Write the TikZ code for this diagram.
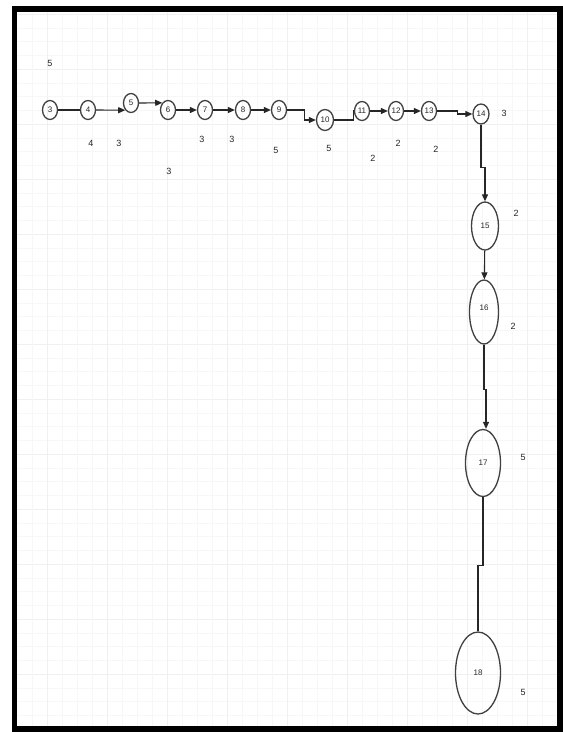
\documentclass[tikz,border=0pt]{standalone}
\usepackage{fontspec}
\setmainfont{Liberation Sans}
\usetikzlibrary{arrows.meta,shapes.geometric}
\begin{document}
\begin{tikzpicture}[x=1pt,y=-1pt,
  vtx/.style={ellipse,draw=black!75,line width=1.3pt,inner sep=0pt,font=\fontsize{8}{8}\selectfont,text=black!85},
  small/.style={vtx,minimum width=15pt,minimum height=19pt},
  lbl/.style={font=\fontsize{9}{9}\selectfont,text=black!85,inner sep=0pt},
  conn/.style={draw=black!85,line width=1.1pt},
  arr/.style={conn,-{Triangle[length=7pt,width=6pt]}},
  gridminor/.style={draw=black!3,line width=0.5pt},
  gridmajor/.style={draw=black!6,line width=0.8pt}]
\useasboundingbox (0,0) rectangle (563,732);
\fill[white] (0,0) rectangle (563,732);
% grid
\foreach \k in {-20,...,32} {
  \pgfmathsetmacro\yy{289+\k*13.75}
  \ifdim\yy pt>12pt \ifdim\yy pt<726pt
    \draw[gridminor] (17,\yy) -- (557,\yy);
  \fi\fi
}
\foreach \k in {-5,...,8} {
  \pgfmathsetmacro\yy{289+\k*55}
  \ifdim\yy pt>12pt \ifdim\yy pt<726pt
    \draw[gridmajor] (17,\yy) -- (557,\yy);
  \fi\fi
}
\foreach \k in {-6,...,30} {
  \pgfmathsetmacro\xx{107+\k*15}
  \ifdim\xx pt>17pt \ifdim\xx pt<557pt
    \draw[gridminor] (\xx,12) -- (\xx,726);
  \fi\fi
}
\foreach \k in {-1,...,7} {
  \pgfmathsetmacro\xx{107+\k*60}
  \ifdim\xx pt>17pt \ifdim\xx pt<557pt
    \draw[gridmajor] (\xx,12) -- (\xx,726);
  \fi\fi
}
% frame
\draw[black,line width=5.5pt] (14.5,9) rectangle (560,729);
% nodes
\node[small] (n3) at (50,110) {3};
\node[small] (n4) at (88,110) {4};
\node[small] (n5) at (131,103) {5};
\node[small] (n6) at (168,110) {6};
\node[small] (n7) at (205,110) {7};
\node[small] (n8) at (243,110) {8};
\node[small] (n9) at (279,110) {9};
\node[vtx,minimum width=17pt,minimum height=21pt] (n10) at (325,120) {10};
\node[small] (n11) at (362,111) {11};
\node[small] (n12) at (396,111) {12};
\node[small] (n13) at (429,111) {13};
\node[vtx,minimum width=16pt,minimum height=20pt] (n14) at (481,114) {14};
\node[vtx,minimum width=27pt,minimum height=48pt] (n15) at (485,226) {15};
\node[vtx,minimum width=29pt,minimum height=64pt] (n16) at (484,312) {\raisebox{8pt}{16}};
\node[vtx,minimum width=35pt,minimum height=67pt] (n17) at (483,463) {17};
\node[vtx,minimum width=45pt,minimum height=82pt] (n18) at (478,673) {18};
% connectors
\draw[conn] (n3) -- (n4);
\draw[arr] (n4.east) -- (n5.south west);
\draw[arr] (n5.east) -- (n6.north west);
\draw[arr] (n6) -- (n7);
\draw[arr] (n7) -- (n8);
\draw[arr] (n8) -- (n9);
\draw[arr] (n9.east) -- ++(17,0) |- (n10.west);
\draw[conn] (n10.east) -- ++(19,0) |- (n11.west);
\draw[arr] (n11) -- (n12);
\draw[arr] (n12) -- (n13);
\draw[arr] (n13.east) -- ++(20,0) |- (n14.west);
\draw[arr] (n14.south) -- ++(0,43) -| (n15.north);
\draw[arr] (n15) -- (n16);
\draw[arr] (n16.south) -- ++(0,45) -| ([xshift=3pt]n17.north);
\draw[conn] (n17.south) -- ++(0,68) -| (n18.north);
% labels
\node[lbl] (l1) at (50,63) {5};
\node[lbl] (l2) at (91,143) {4};
\node[lbl] (l3) at (119,143) {3};
\node[lbl] (l4) at (169,171) {3};
\node[lbl] (l5) at (202,139) {3};
\node[lbl] (l6) at (232,139) {3};
\node[lbl] (l7) at (276,150) {5};
\node[lbl] (l8) at (329,148) {5};
\node[lbl] (l9) at (373,158) {2};
\node[lbl] (l10) at (398,143) {2};
\node[lbl] (l11) at (436,149) {2};
\node[lbl] (l12) at (504,113) {3};
\node[lbl] (l13) at (516,213) {2};
\node[lbl] (l14) at (513,326) {2};
\node[lbl] (l15) at (523,457) {5};
\node[lbl] (l16) at (523,692) {5};
\end{tikzpicture}
\end{document}
